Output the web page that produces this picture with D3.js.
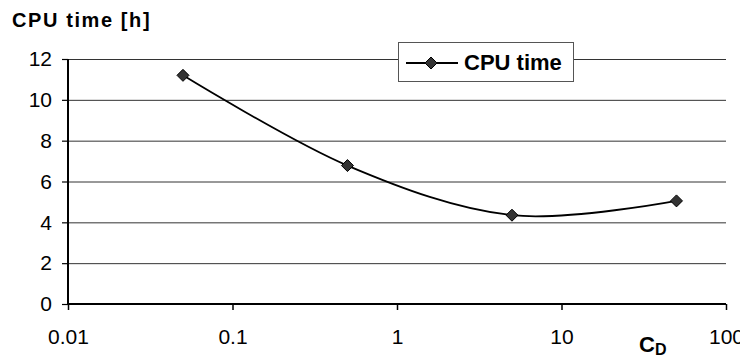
<!DOCTYPE html>
<html>
<head>
<meta charset="utf-8">
<script src="https://cdn.jsdelivr.net/npm/d3@7"></script>
<style>
  body { margin: 0; background: #fff; }
  svg { font-family: Arial, "Liberation Sans", sans-serif; }
</style>
</head>
<body>
<svg width="740" height="358"></svg>
<script>
// chart data
var cdValues = [0.05, 0.5, 5, 50];
var cpuHours = [11.2, 6.78, 4.35, 5.05];
var xTicks = [0.01, 0.1, 1, 10, 100];
var yTicks = [0, 2, 4, 6, 8, 10, 12];
var seriesName = "CPU time";

var svg = d3.select("svg"),
  margin = {top: 59, right: 14, bottom: 54, left: 68},
  width = 740 - margin.left - margin.right,
  height = 358 - margin.top - margin.bottom;

var x = d3.scaleLog().domain([0.01, 100]).range([0, width]);
var y = d3.scaleLinear().domain([0, 12]).range([height, 0]);

var g = svg.append("g")
  .attr("transform", "translate(" + margin.left + "," + margin.top + ")");

// gridlines
g.append("g").selectAll("line").data(yTicks.filter(function(d) { return d > 0; }))
  .enter().append("line")
  .attr("x1", 0).attr("x2", width)
  .attr("y1", function(d) { return y(d) + 0.5; })
  .attr("y2", function(d) { return y(d) + 0.5; })
  .attr("stroke", "#333").attr("stroke-width", 1);

// y axis
var yAxis = g.append("g")
  .call(d3.axisLeft(y).tickValues(yTicks).tickSize(6).tickPadding(10).tickFormat(d3.format("d")));
yAxis.select(".domain").attr("stroke-width", 2).attr("d", "M0," + y(12) + "V" + height);
yAxis.selectAll("text").attr("font-size", 21).attr("fill", "#000").attr("font-family", null);
yAxis.selectAll("line").attr("stroke-width", 1.2);

// x axis
var xAxis = g.append("g")
  .attr("transform", "translate(0," + height + ")")
  .call(d3.axisBottom(x).tickValues(xTicks).tickSize(6).tickPadding(19)
    .tickFormat(function(d) { return String(d); }));
xAxis.select(".domain").attr("stroke-width", 2).attr("d", "M0,0H" + width);
xAxis.selectAll("text").attr("font-size", 21).attr("fill", "#000").attr("font-family", null);
xAxis.selectAll("line").attr("stroke-width", 1.5);

// series
var pts = cdValues.map(function(d, i) { return [d, cpuHours[i]]; });
var line = d3.line()
  .x(function(d) { return x(d[0]); })
  .y(function(d) { return y(d[1]); })
  .curve(d3.curveCardinal.tension(0));

g.append("path").datum(pts)
  .attr("d", line)
  .attr("fill", "none").attr("stroke", "#000").attr("stroke-width", 1.8);

var diamond = "M0,-6L6,0L0,6L-6,0Z";
g.selectAll(".pt").data(pts).enter().append("path")
  .attr("class", "pt")
  .attr("d", diamond)
  .attr("transform", function(d) { return "translate(" + x(d[0]) + "," + y(d[1]) + ")"; })
  .attr("fill", "#333").attr("stroke", "#000").attr("stroke-width", 1);

// legend
var leg = svg.append("g").attr("transform", "translate(398,42)");
leg.append("rect").attr("x", 0.5).attr("y", 0.5).attr("width", 175).attr("height", 39)
  .attr("fill", "#fff").attr("stroke", "#555");
leg.append("line").attr("x1", 8).attr("x2", 60).attr("y1", 21).attr("y2", 21)
  .attr("stroke", "#000").attr("stroke-width", 1.8);
leg.append("path").attr("d", diamond).attr("transform", "translate(33,21)")
  .attr("fill", "#333").attr("stroke", "#000");
leg.append("text").attr("x", 66).attr("y", 28).attr("font-size", 22).attr("font-weight", "bold")
  .text(seriesName);

// titles
svg.append("text").attr("x", 12).attr("y", 27).attr("font-size", 20).attr("font-weight", "bold")
  .attr("letter-spacing", 1.6)
  .text("CPU time [h]");

var cd = svg.append("text").attr("x", 639).attr("y", 352).attr("font-size", 22).attr("font-weight", "bold");
cd.append("tspan").text("C");
cd.append("tspan").attr("dy", 3).attr("font-size", 16).text("D");
</script>
</body>
</html>
